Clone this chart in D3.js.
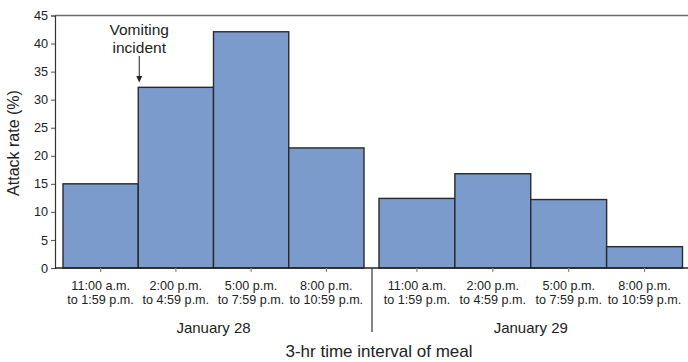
<!DOCTYPE html>
<html><head><meta charset="utf-8">
<script src="https://cdn.jsdelivr.net/npm/d3@7"></script>
<style>body{margin:0;background:#fff}svg{display:block;font-family:"Liberation Sans",Arial,sans-serif}</style>
</head><body><svg id="c" width="688" height="362"></svg>
<script>
const intervals = ["11:00 a.m.|to 1:59 p.m.", "2:00 p.m.|to 4:59 p.m.", "5:00 p.m.|to 7:59 p.m.", "8:00 p.m.|to 10:59 p.m."];
const days = ["January 28", "January 29"];
const jan28 = [15.0, 32.2, 42.1, 21.4];
const jan29 = [12.4, 16.8, 12.2, 3.8];
const yTicks = [0, 5, 10, 15, 20, 25, 30, 35, 40, 45];

(function () {
const svg = d3.select("#c");
const axisX = 55, rightX = 688, topY = 15.5, base = 268;
const y = d3.scaleLinear().domain([0, 45]).range([base, topY]);
const groups = [
  {day: days[0], vals: jan28, x: d3.scaleBand().domain(intervals).range([63, 364]).paddingInner(0)},
  {day: days[1], vals: jan29, x: d3.scaleBand().domain(intervals).range([379, 682.5]).paddingInner(0)}
];
const fill = "#7b9bcc", stroke = "#2a2a2a";

svg.append("line").attr("x1", axisX).attr("x2", rightX).attr("y1", topY).attr("y2", topY)
  .attr("stroke", "#6e6e6e").attr("stroke-width", 1.5);

groups.forEach(g => {
  svg.append("g").selectAll("rect").data(g.vals).join("rect")
    .attr("x", (d, i) => g.x(intervals[i]))
    .attr("width", g.x.bandwidth())
    .attr("y", d => y(d))
    .attr("height", d => base - y(d))
    .attr("fill", fill).attr("stroke", stroke).attr("stroke-width", 1.4);
});

const ya = svg.append("g").attr("transform", `translate(${axisX},0)`)
  .call(d3.axisLeft(y).tickValues(yTicks).tickSize(4).tickPadding(3));
ya.select(".domain").attr("stroke", "#333").attr("stroke-width", 1.2);
ya.selectAll(".tick line").attr("stroke", "#555");
ya.selectAll(".tick text").attr("font-size", 12.7).attr("fill", "#222").attr("font-family", "Liberation Sans, Arial, sans-serif");

svg.append("line").attr("x1", axisX).attr("x2", rightX).attr("y1", base).attr("y2", base)
  .attr("stroke", "#222").attr("stroke-width", 1.5);

groups.forEach(g => {
  const gx = svg.append("g").attr("transform", `translate(0,${base})`)
    .call(d3.axisBottom(g.x).tickSize(4).tickFormat(""));
  gx.select(".domain").remove();
  gx.selectAll(".tick line").attr("stroke", "#888").attr("stroke-width", 1.2);
  const lab = svg.append("g").selectAll("text").data(intervals).join("text")
    .attr("text-anchor", "middle").attr("font-size", 12.6).attr("fill", "#222");
  lab.append("tspan").attr("x", d => g.x(d) + g.x.bandwidth() / 2).attr("y", 289.5).text(d => d.split("|")[0]);
  lab.append("tspan").attr("x", d => g.x(d) + g.x.bandwidth() / 2).attr("y", 304).text(d => d.split("|")[1]);
  const [r0, r1] = g.x.range();
  svg.append("text").attr("x", (r0 + r1) / 2).attr("y", 332.5).attr("text-anchor", "middle")
    .attr("font-size", 15).attr("fill", "#222").text(g.day);
});

svg.append("line").attr("x1", 372).attr("x2", 372).attr("y1", base).attr("y2", 332)
  .attr("stroke", "#333").attr("stroke-width", 1.2);

svg.append("text").attr("x", 379).attr("y", 356.5).attr("text-anchor", "middle")
  .attr("font-size", 17).attr("fill", "#222").text("3-hr time interval of meal");
svg.append("text").attr("transform", "translate(18.5,143) rotate(-90)").attr("text-anchor", "middle")
  .attr("font-size", 16).attr("fill", "#222").text("Attack rate (%)");

const ax = groups[0].x(intervals[1]);
svg.append("text").attr("x", ax + 1).attr("y", 35).attr("text-anchor", "middle")
  .attr("font-size", 15.5).attr("fill", "#222").text("Vomiting");
svg.append("text").attr("x", ax + 1).attr("y", 52.5).attr("text-anchor", "middle")
  .attr("font-size", 15.5).attr("fill", "#222").text("incident");
svg.append("line").attr("x1", ax + 1).attr("x2", ax + 1).attr("y1", 56).attr("y2", 77)
  .attr("stroke", "#222").attr("stroke-width", 1);
svg.append("path").attr("d", `M${ax - 2},76 L${ax + 4},76 L${ax + 1},82.5 Z`).attr("fill", "#222");
})();
</script></body></html>
